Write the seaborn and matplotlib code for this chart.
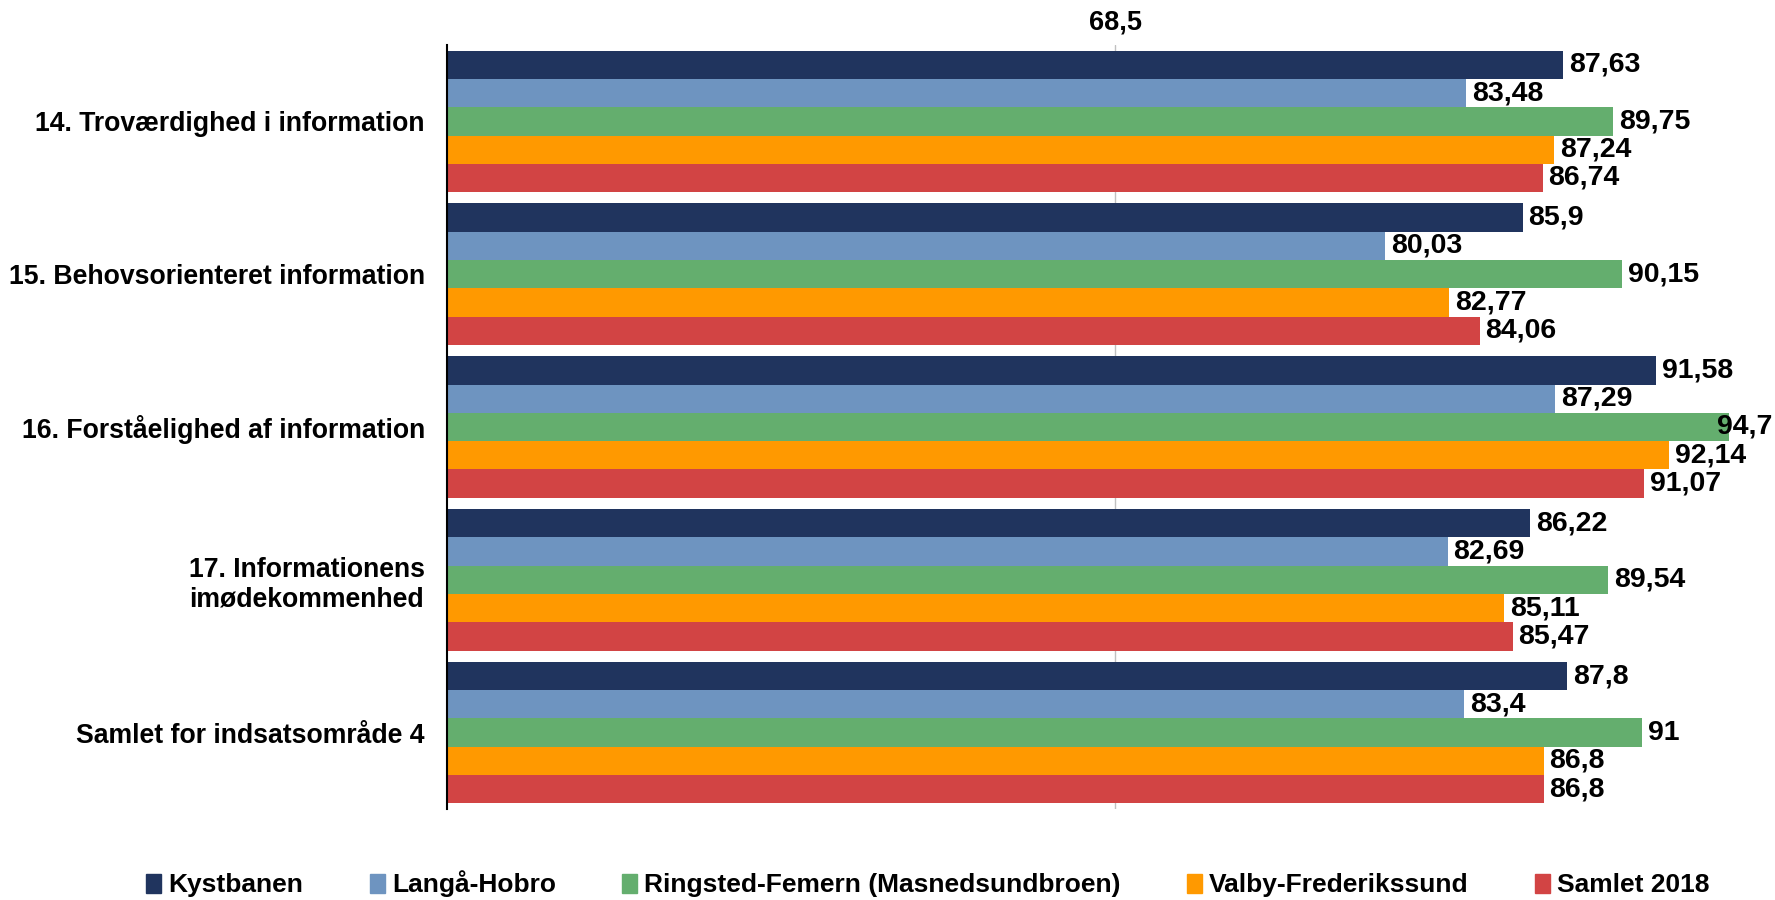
import matplotlib
matplotlib.use("Agg")
import matplotlib.pyplot as plt
import matplotlib.patches as mpatches
import pandas as pd
import seaborn as sns

categories = [
    "14. Troværdighed i information",
    "15. Behovsorienteret information",
    "16. Forståelighed af information",
    "17. Informationens\nimødekommenhed",
    "Samlet for indsatsområde 4",
]
series_names = [
    "Kystbanen",
    "Langå-Hobro",
    "Ringsted-Femern (Masnedsundbroen)",
    "Valby-Frederikssund",
    "Samlet 2018",
]
kystbanen = [87.63, 85.9, 91.58, 86.22, 87.8]
langaa_hobro = [83.48, 80.03, 87.29, 82.69, 83.4]
ringsted_femern = [89.75, 90.15, 94.7, 89.54, 91]
valby_frederikssund = [87.24, 82.77, 92.14, 85.11, 86.8]
samlet_2018 = [86.74, 84.06, 91.07, 85.47, 86.8]
colors = ["#20345E", "#6E94C0", "#64AE6E", "#FF9900", "#D24444"]
x_tick = 68.5

all_values = [kystbanen, langaa_hobro, ringsted_femern, valby_frederikssund, samlet_2018]
rows = []
for name, vals in zip(series_names, all_values):
    for cat, v in zip(categories, vals):
        rows.append({"category": cat, "series": name, "value": v})
df = pd.DataFrame(rows)

sns.set_style("white")
plt.rcParams["font.family"] = ["Liberation Sans", "DejaVu Sans"]
plt.rcParams["font.weight"] = "bold"
plt.rcParams["text.color"] = "black"
plt.rcParams["xtick.color"] = "black"
plt.rcParams["ytick.color"] = "black"

W, H = 1775, 900
fig = plt.figure(figsize=(W / 100, H / 100), dpi=100)
ax = fig.add_axes([447 / W, 1 - 809 / H, 1336 / W, (809 - 45) / H])

sns.barplot(
    data=df, x="value", y="category", hue="series", orient="h",
    order=categories, hue_order=series_names, palette=colors,
    saturation=1, width=0.926, gap=0, linewidth=0, legend=False, ax=ax,
    errorbar=None,
)

ax.set_xlim(40, 97)
ax.set_ylim(len(categories) - 0.5, -0.5)

def fmt(v):
    return f"{v:g}".replace(".", ",")

value_labels = []
for cont, vals in zip(ax.containers, all_values):
    value_labels += ax.bar_label(cont, labels=[fmt(v) for v in vals], padding=4,
                                 fontsize=20.5, fontweight="bold", color="black")

# x axis: single reference value on top with a light gridline
ax.set_xticks([x_tick])
ax.set_xticklabels([fmt(x_tick)], fontsize=19.5, fontweight="bold", color="black")
ax.xaxis.tick_top()
ax.tick_params(axis="x", length=0, pad=7)
ax.axvline(x_tick, color="#C0C0C0", linewidth=1, zorder=0)

# y axis: labels at group centres, ticks at group boundaries
ax.set_yticks(range(len(categories)))
ax.set_yticklabels(categories, fontsize=19.2, fontweight="bold", color="black",
                   multialignment="center")
ax.tick_params(axis="y", which="major", length=0, pad=16)
ax.set_yticks([i - 0.5 for i in range(len(categories) + 1)], minor=True)
ax.tick_params(axis="y", which="minor", length=6, width=1.2, color="black", direction="out")

ax.set_xlabel("")
ax.set_ylabel("")
for s in ["top", "right", "bottom"]:
    ax.spines[s].set_visible(False)
ax.spines["left"].set_color("black")
ax.spines["left"].set_linewidth(1.5)
ax.grid(False)

handles = [mpatches.Patch(color=c, label=n) for c, n in zip(colors, series_names)]
fig.legend(handles=handles, loc="center", bbox_to_anchor=(928 / W, 1 - 884 / H),
           ncol=5, frameon=False, prop={"weight": "bold", "size": 19},
           handlelength=0.57, handleheight=0.72, handletextpad=0.28, columnspacing=2.5)

# keep value labels inside the figure: pull any overflowing label back left
fig.canvas.draw()
renderer = fig.canvas.get_renderer()
limit = W - 3
for ann in value_labels:
    bb = ann.get_window_extent(renderer)
    if bb.x1 > limit:
        dx_pt = (bb.x1 - limit) * 72 / fig.dpi
        ox, oy = ann.xyann
        ann.xyann = (ox - dx_pt, oy)

fig.savefig("out.png", dpi=100)
